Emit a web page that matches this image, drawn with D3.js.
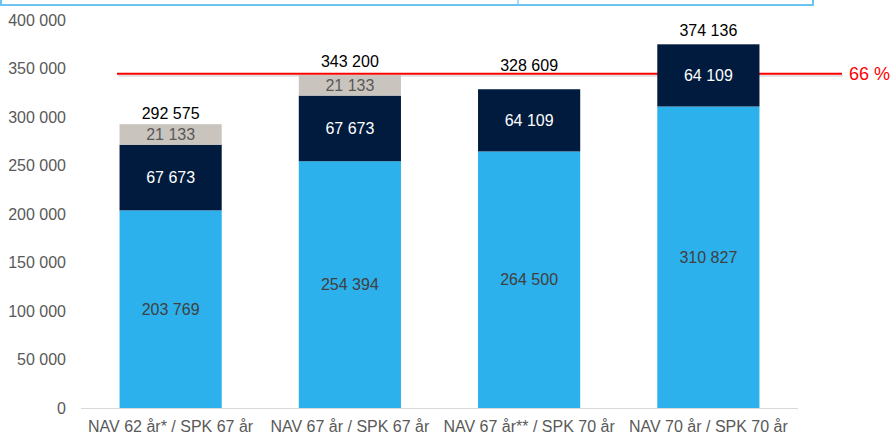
<!DOCTYPE html>
<html>
<head>
<meta charset="utf-8">
<script src="https://cdn.jsdelivr.net/npm/d3@7"></script>
<style>
html,body{margin:0;padding:0;background:#fff;}
svg{display:block;font-family:"Liberation Sans",Arial,sans-serif;}
</style>
</head>
<body>
<svg id="chart" width="892" height="435"></svg>
<script>
const categories = ["NAV 62 år* / SPK 67 år", "NAV 67 år / SPK 67 år", "NAV 67 år** / SPK 70 år", "NAV 70 år / SPK 70 år"];
const baseValues = [203769, 254394, 264500, 310827];
const midValues = [67673, 67673, 64109, 64109];
const topValues = [21133, 21133, 0, 0];
const totals = [292575, 343200, 328609, 374136];
const yTicks = [0, 50000, 100000, 150000, 200000, 250000, 300000, 350000, 400000];
const refValue = 344500;
const refLabel = "66 %";

// layout (not data)
const totalLabelGap = [11, 14, 24, 15];

const svg = d3.select("#chart");
const fmt = v => d3.format(",")(v).replace(/,/g, " ");

const x = d3.scaleBand().domain(categories).range([81, 798]).paddingInner(0.43).paddingOuter(0.215);
const y = d3.scaleLinear().domain([0, 400000]).range([408, 20]);

// top frame lines
const frame = svg.append("g").attr("stroke", "#6cc5f0").attr("stroke-width", 2).attr("fill", "none");
frame.append("path").attr("d", "M1,0 V5 H813 V0");
frame.append("line").attr("x1", 518).attr("x2", 518).attr("y1", 0).attr("y2", 5).attr("stroke-width", 1.2);

// y tick labels
svg.append("g").selectAll("text").data(yTicks).join("text")
  .attr("x", 66).attr("y", d => y(d)).attr("dy", "0.35em")
  .attr("text-anchor", "end").attr("font-size", 16).attr("fill", "#595959")
  .text(d => fmt(d));

// x axis baseline
svg.append("line").attr("x1", 81).attr("x2", 798).attr("y1", y(0) + 0.5).attr("y2", y(0) + 0.5)
  .attr("stroke", "#d9d9d9").attr("stroke-width", 1);

// reference line (behind bars) with soft shadow
const ry = y(refValue);
svg.append("line").attr("x1", 118).attr("x2", 843).attr("y1", ry + 2).attr("y2", ry + 2)
  .attr("stroke", "#000").attr("stroke-opacity", 0.12).attr("stroke-width", 2);
svg.append("line").attr("x1", 117).attr("x2", 842).attr("y1", ry).attr("y2", ry)
  .attr("stroke", "#ff0000").attr("stroke-width", 2);
svg.append("text").attr("x", 849).attr("y", ry).attr("dy", "0.35em")
  .attr("font-size", 18).attr("fill", "#ff0000").text(refLabel);

// stacked bars
const rows = categories.map((c, i) => ({cat: c, base: baseValues[i], mid: midValues[i], top: topValues[i]}));
const keys = ["base", "mid", "top"];
const colors = {base: "#2cb1ec", mid: "#001b3d", top: "#c9c4be"};
const labelColors = {base: "#404040", mid: "#ffffff", top: "#595959"};
const stacked = d3.stack().keys(keys)(rows);

stacked.forEach(s => {
  const g = svg.append("g");
  g.selectAll("rect").data(s.filter(d => d[1] > d[0])).join("rect")
    .attr("x", d => x(d.data.cat)).attr("width", x.bandwidth())
    .attr("y", d => y(d[1])).attr("height", d => y(d[0]) - y(d[1]))
    .attr("fill", colors[s.key]);
  g.selectAll("text").data(s.filter(d => d[1] > d[0])).join("text")
    .attr("x", d => x(d.data.cat) + x.bandwidth() / 2)
    .attr("y", d => (y(d[0]) + y(d[1])) / 2).attr("dy", "0.35em")
    .attr("text-anchor", "middle").attr("font-size", 16).attr("fill", labelColors[s.key])
    .text(d => fmt(d.data[s.key]));
});

// totals
svg.append("g").selectAll("text").data(categories).join("text")
  .attr("x", d => x(d) + x.bandwidth() / 2)
  .attr("y", (d, i) => y(totals[i]) - totalLabelGap[i]).attr("dy", "0.35em")
  .attr("text-anchor", "middle").attr("font-size", 16).attr("fill", "#000")
  .text((d, i) => fmt(totals[i]));

// x labels
svg.append("g").selectAll("text").data(categories).join("text")
  .attr("x", d => x(d) + x.bandwidth() / 2).attr("y", 426).attr("dy", "0.35em")
  .attr("text-anchor", "middle").attr("font-size", 16).attr("fill", "#595959")
  .text(d => d);
</script>
</body>
</html>
